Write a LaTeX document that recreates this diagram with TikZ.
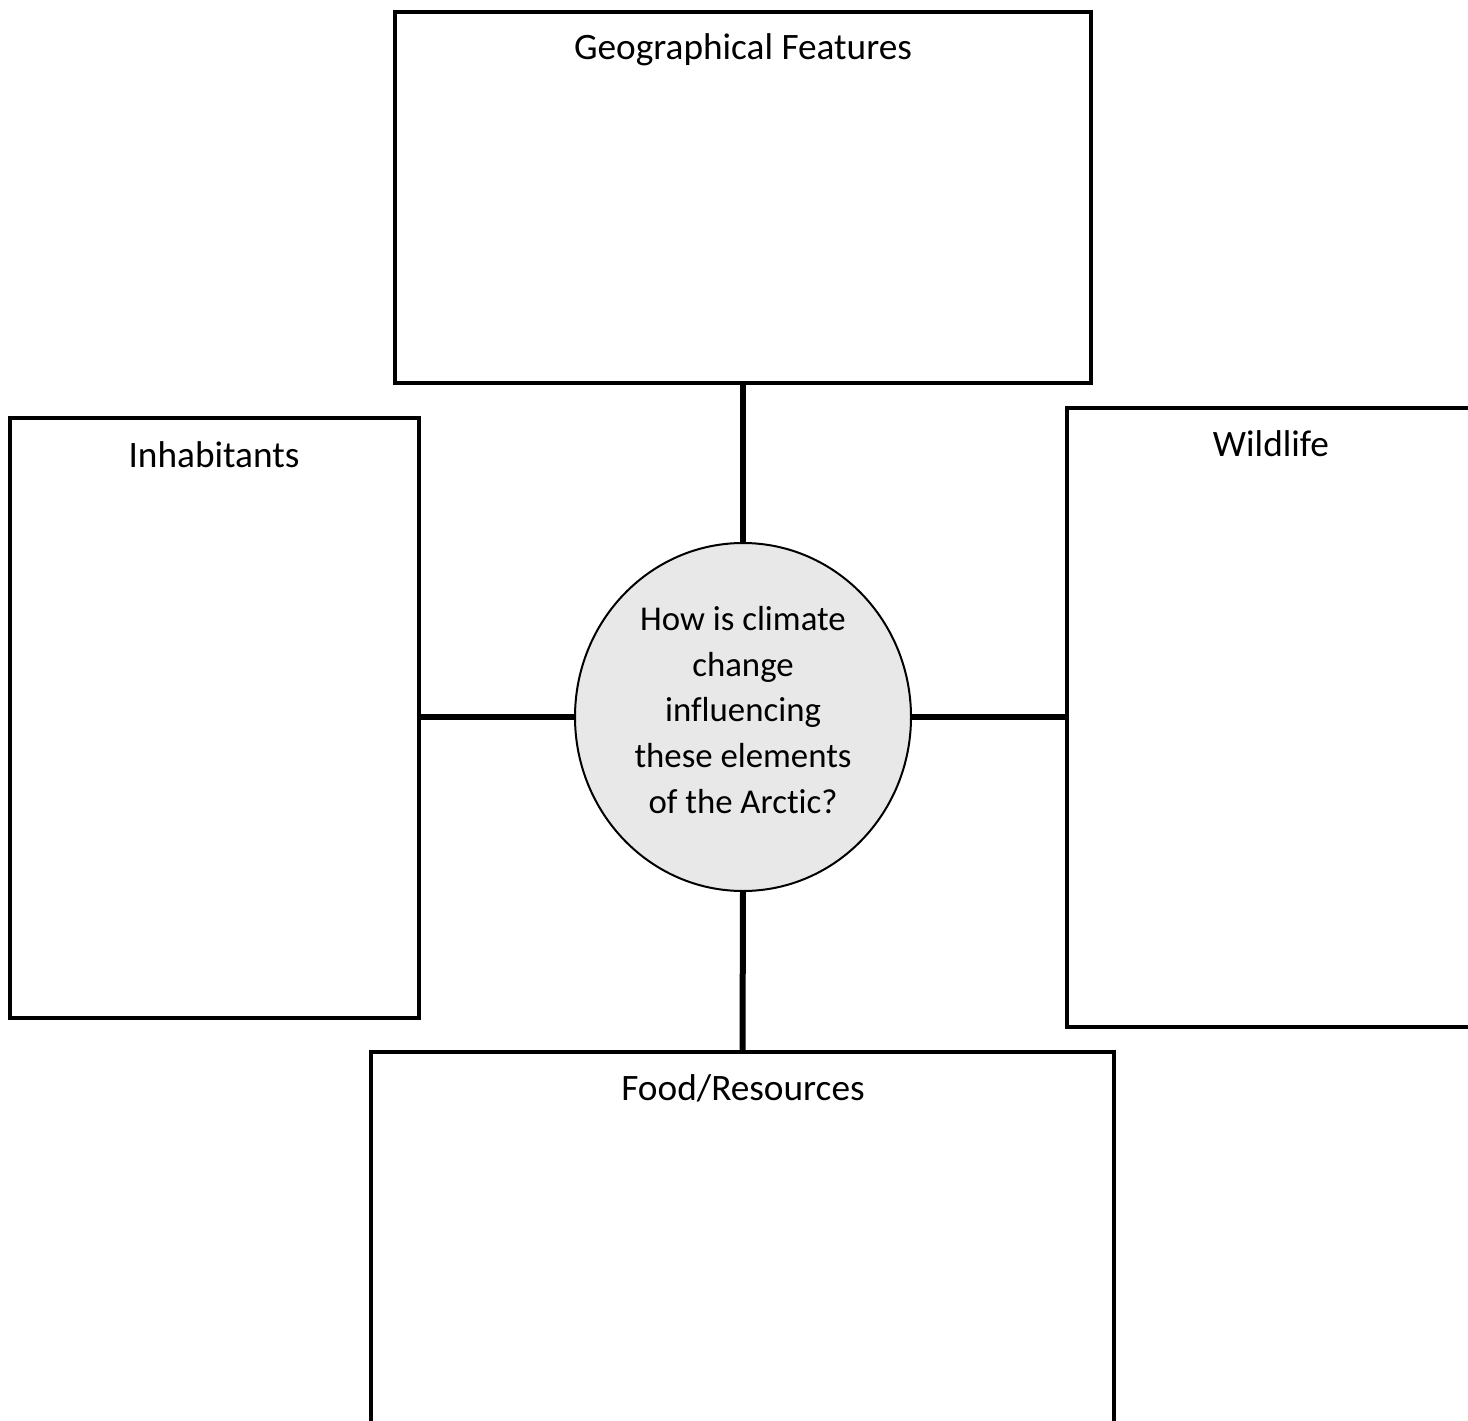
\documentclass[tikz,border=0pt]{standalone}
\usepackage{fontspec}
\setmainfont{Carlito}[Ligatures={NoCommon}]
\usetikzlibrary{shapes.geometric}
\begin{document}
\begin{tikzpicture}[x=1pt,y=-1pt,
  box/.style={draw=black,line width=4pt,rectangle,inner sep=0pt,outer sep=0pt},
  title/.style={font=\fontsize{37.3}{45}\selectfont,anchor=base,inner sep=0pt},
  link/.style={draw=black,line width=6pt}]
\useasboundingbox (0,0) rectangle (1468,1421);
\clip (0,0) rectangle (1468,1421);
\fill[white] (0,0) rectangle (1468,1421);
% boxes
\node[box,minimum width=696pt,minimum height=371pt,anchor=north west] (geo) at (395,12) {};
\node[box,minimum width=409pt,minimum height=600pt,anchor=north west] (inh) at (10,418) {};
\node[box,minimum width=410pt,minimum height=619pt,anchor=north west] (wild) at (1067,408) {};
\node[box,minimum width=743pt,minimum height=420pt,anchor=north west] (food) at (371,1052) {};
% center
\node[ellipse,draw=black,line width=2pt,fill=black!9,minimum width=336pt,minimum height=348pt,inner sep=0pt,outer sep=0pt] (c) at (743,717) {};
\node[font=\fontsize{34.8}{45.7}\selectfont,align=center,inner sep=0pt] (ctext) at (743,710) {How is climate\\change\\influencing\\these elements\\of the Arctic?};
% titles
\node[title] (geoT) at (743,60) {Geographical Features};
\node[title] (inhT) at (214,467) {Inhabitants};
\node[title] (wildT) at (1271,456) {Wildlife};
\node[title] (foodT) at (743,1100) {Food/Resources};
% connectors
\draw[link] (geo.south) -- (c.north);
\draw[link] (c.south) -- (food.north);
\draw[link] (inh.east |- c.west) -- (c.west);
\draw[link] (c.east) -- (wild.west |- c.east);
\end{tikzpicture}
\end{document}
